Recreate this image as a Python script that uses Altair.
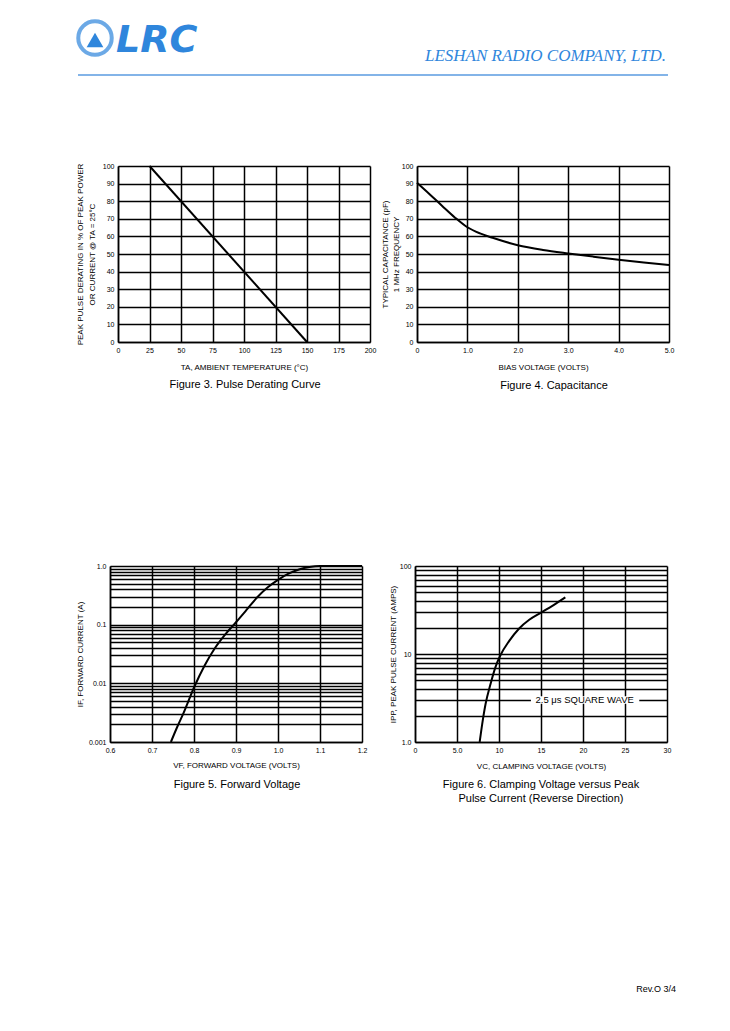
import altair as alt
import pandas as pd

LABEL_FONT = "Liberation Sans"
BLUE = "#2f86dc"

company_name = "LESHAN RADIO COMPANY, LTD."
logo_text = "LRC"
footer_text = "Rev.O 3/4"

# ---------------- Figure 3 : Pulse derating ----------------
f3_temp = [25, 150]
f3_pct = [100, 0]
f3_x_ticks = [0, 25, 50, 75, 100, 125, 150, 175, 200]
f3_y_ticks = [0, 10, 20, 30, 40, 50, 60, 70, 80, 90, 100]

# ---------------- Figure 4 : Capacitance ----------------
f4_bias = [0, 0.25, 0.5, 0.75, 1.0, 1.25, 1.5, 2.0, 2.5, 3.0, 3.5, 4.0, 4.5, 5.0]
f4_cap = [90.5, 84, 77.3, 70.8, 65.2, 61.7, 59.2, 55.0, 52.3, 50.3, 48.5, 46.8, 45.2, 43.8]
f4_x_ticks = [0, 1, 2, 3, 4, 5]
f4_x_labels = ["0", "1.0", "2.0", "3.0", "4.0", "5.0"]
f4_y_ticks = [0, 10, 20, 30, 40, 50, 60, 70, 80, 90, 100]

# ---------------- Figure 5 : Forward voltage ----------------
f5_vf = [0.745, 0.76, 0.775, 0.8, 0.825, 0.85, 0.875, 0.9, 0.925, 0.95, 0.975, 1.0, 1.025, 1.05, 1.075, 1.1, 1.2]
f5_if = [0.001, 0.0018, 0.0031, 0.0085, 0.02, 0.04, 0.069, 0.11, 0.178, 0.29, 0.43, 0.58, 0.74, 0.87, 0.96, 1.0, 1.0]
f5_x_ticks = [0.6, 0.7, 0.8, 0.9, 1.0, 1.1, 1.2]
f5_x_labels = ["0.6", "0.7", "0.8", "0.9", "1.0", "1.1", "1.2"]
f5_y_grid = [0.001, 0.002, 0.003, 0.004, 0.005, 0.006, 0.007, 0.008, 0.009,
             0.01, 0.02, 0.03, 0.04, 0.05, 0.06, 0.07, 0.08, 0.09,
             0.1, 0.2, 0.3, 0.4, 0.5, 0.6, 0.7, 0.8, 0.9, 1.0]
f5_y_label_values = [0.001, 0.01, 0.1, 1.0]
f5_y_labels = ["0.001", "0.01", "0.1", "1.0"]

# ---------------- Figure 6 : Clamping voltage ----------------
f6_vc = [7.7, 8.0, 8.4, 9.0, 9.6, 10.2, 11.2, 12.4, 13.6, 15.0, 16.4, 17.9]
f6_ipp = [1.0, 1.6, 2.7, 4.6, 7.2, 9.8, 14, 19.5, 24.5, 29.5, 35.5, 44]
f6_x_ticks = [0, 5, 10, 15, 20, 25, 30]
f6_x_labels = ["0", "5.0", "10", "15", "20", "25", "30"]
f6_y_grid = [1, 2, 3, 4, 5, 6, 7, 8, 9, 10, 20, 30, 40, 50, 60, 70, 80, 90, 100]
f6_y_label_values = [1, 10, 100]
f6_y_labels = ["1.0", "10", "100"]
f6_note = ["2.5 \u03bcs SQUARE WAVE"]
f6_note_x = [20.2]
f6_note_y = [3.0]
f6_note_box_x = [13.8]
f6_note_box_x2 = [26.7]
f6_note_box_y = [2.72]
f6_note_box_y2 = [3.3]


def lab_expr(vals, labs):
    e = "''"
    for v, l in reversed(list(zip(vals, labs))):
        e = f"datum.value == {v} ? '{l}' : ({e})"
    return e


def axis(title, values, labels_vals=None, labels=None, title_pad=10, offset=None,
         line_height=None):
    kw = dict(title=title, values=values, grid=True, titlePadding=title_pad)
    if labels is not None:
        kw["labelExpr"] = lab_expr(labels_vals, labels)
    if offset is not None:
        kw["offset"] = offset
    if line_height is not None:
        kw["titleLineHeight"] = line_height
    return alt.Axis(**kw)


# ---------- Figure 3 ----------
df3 = pd.DataFrame({"temp": f3_temp, "pct": f3_pct})
line3 = alt.Chart(df3).mark_line(color="black", strokeWidth=2).encode(
    x=alt.X("temp:Q", scale=alt.Scale(domain=[0, 200], range=[8, 260], nice=False, zero=False),
            axis=axis("TA, AMBIENT TEMPERATURE (\u00b0C)", f3_x_ticks, title_pad=10)),
    y=alt.Y("pct:Q", scale=alt.Scale(domain=[0, 100], nice=False),
            axis=axis(["PEAK PULSE DERATING IN % OF PEAK POWER", "OR CURRENT @ TA = 25\u00b0C"],
                      f3_y_ticks, title_pad=6, offset=-8, line_height=12)),
)

one = pd.DataFrame({"t": [0]})
anchor = alt.Chart(one).mark_point(filled=True, color="white", size=1, opacity=1).encode(
    x=alt.value(-101.5), y=alt.value(-157.5))
logo_circle = alt.Chart(one).mark_point(shape="circle", filled=False, color=BLUE, size=1120,
                                         strokeWidth=4).encode(x=alt.value(-15), y=alt.value(-128))
logo_tri = alt.Chart(one).mark_point(shape="triangle-up", filled=True, color=BLUE, size=280,
                                      opacity=1).encode(x=alt.value(-15), y=alt.value(-126))
logo_txt = alt.Chart(pd.DataFrame({"t": [logo_text]})).mark_text(
    align="left", baseline="alphabetic", font="DejaVu Sans", fontWeight="bold", fontStyle="italic",
    fontSize=38, color=BLUE).encode(x=alt.value(6), y=alt.value(-114), text="t:N")
company = alt.Chart(pd.DataFrame({"t": [company_name]})).mark_text(
    align="right", baseline="alphabetic", font="Liberation Serif", fontStyle="italic",
    fontSize=17, color=BLUE).encode(x=alt.value(556), y=alt.value(-105), text="t:N")
hline = alt.Chart(one).mark_rule(color="#5a9be0", strokeWidth=1.5).encode(
    x=alt.value(-32), x2=alt.value(558), y=alt.value(-91))

fig3 = alt.layer(line3, anchor, logo_circle, logo_tri, logo_txt, company, hline).properties(
    width=260, height=176,
    title=alt.TitleParams("Figure 3. Pulse Derating Curve", orient="bottom", dx=5, offset=8),
)

# ---------- Figure 4 ----------
df4 = pd.DataFrame({"bias": f4_bias, "cap": f4_cap})
fig4 = alt.Chart(df4).mark_line(color="black", strokeWidth=2, interpolate="monotone").encode(
    x=alt.X("bias:Q", scale=alt.Scale(domain=[0, 5], range=[2, 254], nice=False, zero=False),
            axis=axis("BIAS VOLTAGE (VOLTS)", f4_x_ticks, f4_x_ticks, f4_x_labels, title_pad=10)),
    y=alt.Y("cap:Q", scale=alt.Scale(domain=[0, 100], nice=False),
            axis=axis(["TYPICAL CAPACITANCE (pF)", "1 MHz FREQUENCY"], f4_y_ticks,
                      title_pad=1, offset=-2, line_height=11)),
).properties(
    width=254, height=176,
    title=alt.TitleParams("Figure 4. Capacitance", orient="bottom", dx=12, offset=9),
)

# ---------- Figure 5 ----------
df5 = pd.DataFrame({"vf": f5_vf, "if_": f5_if})
fig5 = alt.Chart(df5).mark_line(color="black", strokeWidth=2, interpolate="monotone").encode(
    x=alt.X("vf:Q", scale=alt.Scale(domain=[0.6, 1.2], nice=False, zero=False),
            axis=axis("VF, FORWARD VOLTAGE (VOLTS)", f5_x_ticks, f5_x_ticks, f5_x_labels, title_pad=8)),
    y=alt.Y("if_:Q", scale=alt.Scale(type="log", domain=[0.001, 1.0], nice=False),
            axis=axis("IF, FORWARD CURRENT (A)", f5_y_grid, f5_y_label_values, f5_y_labels,
                      title_pad=4)),
).properties(
    width=252, height=176,
    title=alt.TitleParams("Figure 5. Forward Voltage", orient="bottom", dx=1, offset=10),
)

# ---------- Figure 6 ----------
df6 = pd.DataFrame({"vc": f6_vc, "ipp": f6_ipp})
x6 = alt.Scale(domain=[0, 30], nice=False, zero=False)
y6 = alt.Scale(type="log", domain=[1, 100], nice=False)
line6 = alt.Chart(df6).mark_line(color="black", strokeWidth=2, interpolate="monotone").encode(
    x=alt.X("vc:Q", scale=x6,
            axis=axis("VC, CLAMPING VOLTAGE (VOLTS)", f6_x_ticks, f6_x_ticks, f6_x_labels, title_pad=9)),
    y=alt.Y("ipp:Q", scale=y6,
            axis=axis("IPP, PEAK PULSE CURRENT (AMPS)", f6_y_grid, f6_y_label_values, f6_y_labels,
                      title_pad=2)),
)
note_box = alt.Chart(pd.DataFrame({"x": f6_note_box_x, "x2": f6_note_box_x2,
                                   "y": f6_note_box_y, "y2": f6_note_box_y2})).mark_rect(
    color="white", opacity=1).encode(x="x:Q", x2="x2:Q", y="y:Q", y2="y2:Q")
note_txt = alt.Chart(pd.DataFrame({"x": f6_note_x, "y": f6_note_y, "t": f6_note})).mark_text(
    font=LABEL_FONT, fontSize=9.5, color="black", align="center", baseline="middle").encode(
    x="x:Q", y="y:Q", text="t:N")
fig6 = alt.layer(line6, note_box, note_txt).properties(
    width=252, height=176,
    title=alt.TitleParams(["Figure 6. Clamping Voltage versus Peak", "Pulse Current (Reverse Direction)"],
                          orient="bottom", dx=0, offset=9, lineHeight=14),
)

chart = alt.concat(
    fig3, fig4, fig5, fig6, columns=2, spacing={"row": 224, "column": 45}, bounds="flush"
).properties(
    padding=0, background="white",
    title=alt.TitleParams(footer_text, orient="bottom", anchor="end", offset=181, fontSize=9,
                          frame="group", dx=566),
).configure_view(stroke=None).configure_axis(
    labelFont=LABEL_FONT, labelFontSize=7, labelColor="black", labelPadding=4,
    titleFont=LABEL_FONT, titleFontSize=8, titleFontWeight="normal", titleColor="black",
    domainColor="black", domainWidth=1.5, gridColor="black", gridWidth=1.5, gridOpacity=1,
    ticks=False, labelFlush=False, labelOverlap=False,
).configure_title(
    font=LABEL_FONT, fontSize=11, fontWeight="normal", color="black", frame="group", anchor="middle",
)

chart.save("out.html", embed_options={"renderer": "svg", "actions": False})
